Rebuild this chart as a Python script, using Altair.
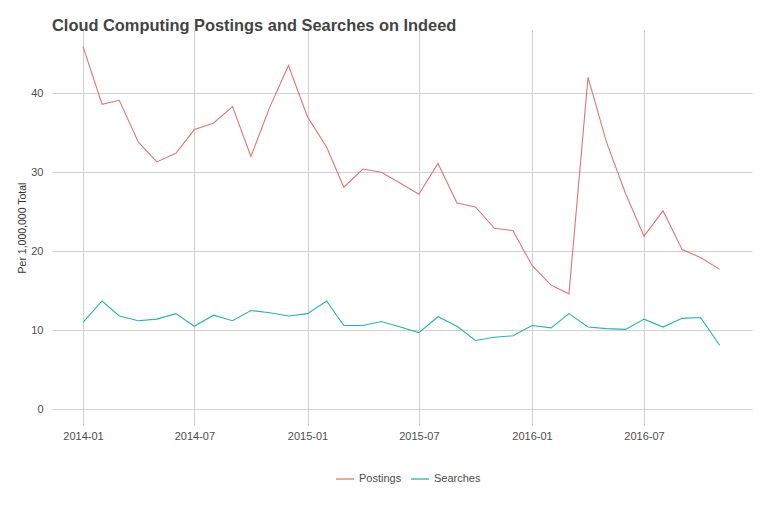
import altair as alt
import pandas as pd

months = [
    "2014-01-01", "2014-02-01", "2014-03-01", "2014-04-01", "2014-05-01", "2014-06-01",
    "2014-07-01", "2014-08-01", "2014-09-01", "2014-10-01", "2014-11-01", "2014-12-01",
    "2015-01-01", "2015-02-01", "2015-03-01", "2015-04-01", "2015-05-01", "2015-06-01",
    "2015-07-01", "2015-08-01", "2015-09-01", "2015-10-01", "2015-11-01", "2015-12-01",
    "2016-01-01", "2016-02-01", "2016-03-01", "2016-04-01", "2016-05-01", "2016-06-01",
    "2016-07-01", "2016-08-01", "2016-09-01", "2016-10-01", "2016-11-01",
]
postings = [45.9, 38.6, 39.1, 33.8, 31.3, 32.4, 35.4, 36.2, 38.3, 32.0, 38.3, 43.5,
            37.0, 33.2, 28.1, 30.4, 30.0, 28.6, 27.2, 31.1, 26.1, 25.6, 22.9, 22.6,
            18.2, 15.7, 14.6, 42.0, 33.8, 27.3, 21.9, 25.1, 20.2, 19.2, 17.7]
searches = [11.0, 13.7, 11.8, 11.2, 11.4, 12.1, 10.5, 11.9, 11.2, 12.5, 12.2, 11.8,
            12.1, 13.7, 10.6, 10.6, 11.1, 10.4, 9.7, 11.7, 10.5, 8.7, 9.1, 9.3,
            10.6, 10.3, 12.1, 10.4, 10.2, 10.1, 11.4, 10.4, 11.5, 11.6, 8.1]
series_names = ["Postings", "Searches"]
series_colors = ["#DE7770", "#29B0B4"]
tick_dates = [(2014, 1), (2014, 7), (2015, 1), (2015, 7), (2016, 1), (2016, 7)]

df = pd.DataFrame({
    "date": months * 2,
    "value": postings + searches,
    "series": [series_names[0]] * len(months) + [series_names[1]] * len(months),
})

FONT = "Liberation Sans"

x_enc = alt.X(
    "date:T",
    timeUnit="utcyearmonth",
    title=None,
    scale=alt.Scale(
        domain=[
            alt.DateTime(year=2013, month=11, date=11, hours=14, utc=True),
            alt.DateTime(year=2016, month=12, date=23, hours=14, utc=True),
        ],
        nice=False,
    ),
    axis=alt.Axis(
        values=[alt.DateTime(year=y, month=m, date=1, utc=True) for y, m in tick_dates],
        format="%Y-%m",
        domain=False,
        ticks=False,
        labelPadding=5,
        labelFontSize=11,
        labelColor="#4d4d4d",
        labelFont=FONT,
        grid=True,
        gridColor="#d0d0d0",
        gridWidth=1,
    ),
)

y_enc = alt.Y(
    "value:Q",
    title="Per 1,000,000 Total",
    scale=alt.Scale(domain=[-2.0, 48.0], nice=False, zero=False),
    axis=alt.Axis(
        values=[0, 10, 20, 30, 40],
        domain=False,
        ticks=False,
        labelPadding=9,
        labelFontSize=11,
        labelColor="#4d4d4d",
        labelFont=FONT,
        titleFontSize=10.5,
        titleFont=FONT,
        titleFontWeight="normal",
        titleColor="#333333",
        titlePadding=3,
        grid=True,
        gridColor="#d0d0d0",
        gridWidth=1,
    ),
)

chart = (
    alt.Chart(df)
    .mark_line(strokeWidth=1.1)
    .encode(
        x=x_enc,
        y=y_enc,
        color=alt.Color(
            "series:N",
            scale=alt.Scale(domain=series_names, range=series_colors),
            legend=alt.Legend(
                title=None,
                orient="none",
                direction="horizontal",
                legendX=283,
                legendY=439,
                symbolType="stroke",
                symbolSize=324,
                symbolStrokeWidth=1.3,
                labelFontSize=11,
                labelFont=FONT,
                labelColor="#4d4d4d",
                columnPadding=6,
                labelOffset=4,
            ),
        ),
    )
    .properties(
        width=700,
        height=395,
        autosize=alt.AutoSizeParams(type="none"),
        padding={"left": 44, "top": 22, "right": 10, "bottom": 80},
        title=alt.TitleParams(
            "Cloud Computing Postings and Searches on Indeed",
            anchor="start",
            frame="group",
            fontSize=16.4,
            fontWeight="bold",
            font=FONT,
            color="#444444",
            baseline="alphabetic",
            offset=1,
            dy=18,
        ),
    )
    .configure_view(stroke=None)
)

chart.save("out.html", embed_options={"renderer": "svg", "actions": False})
